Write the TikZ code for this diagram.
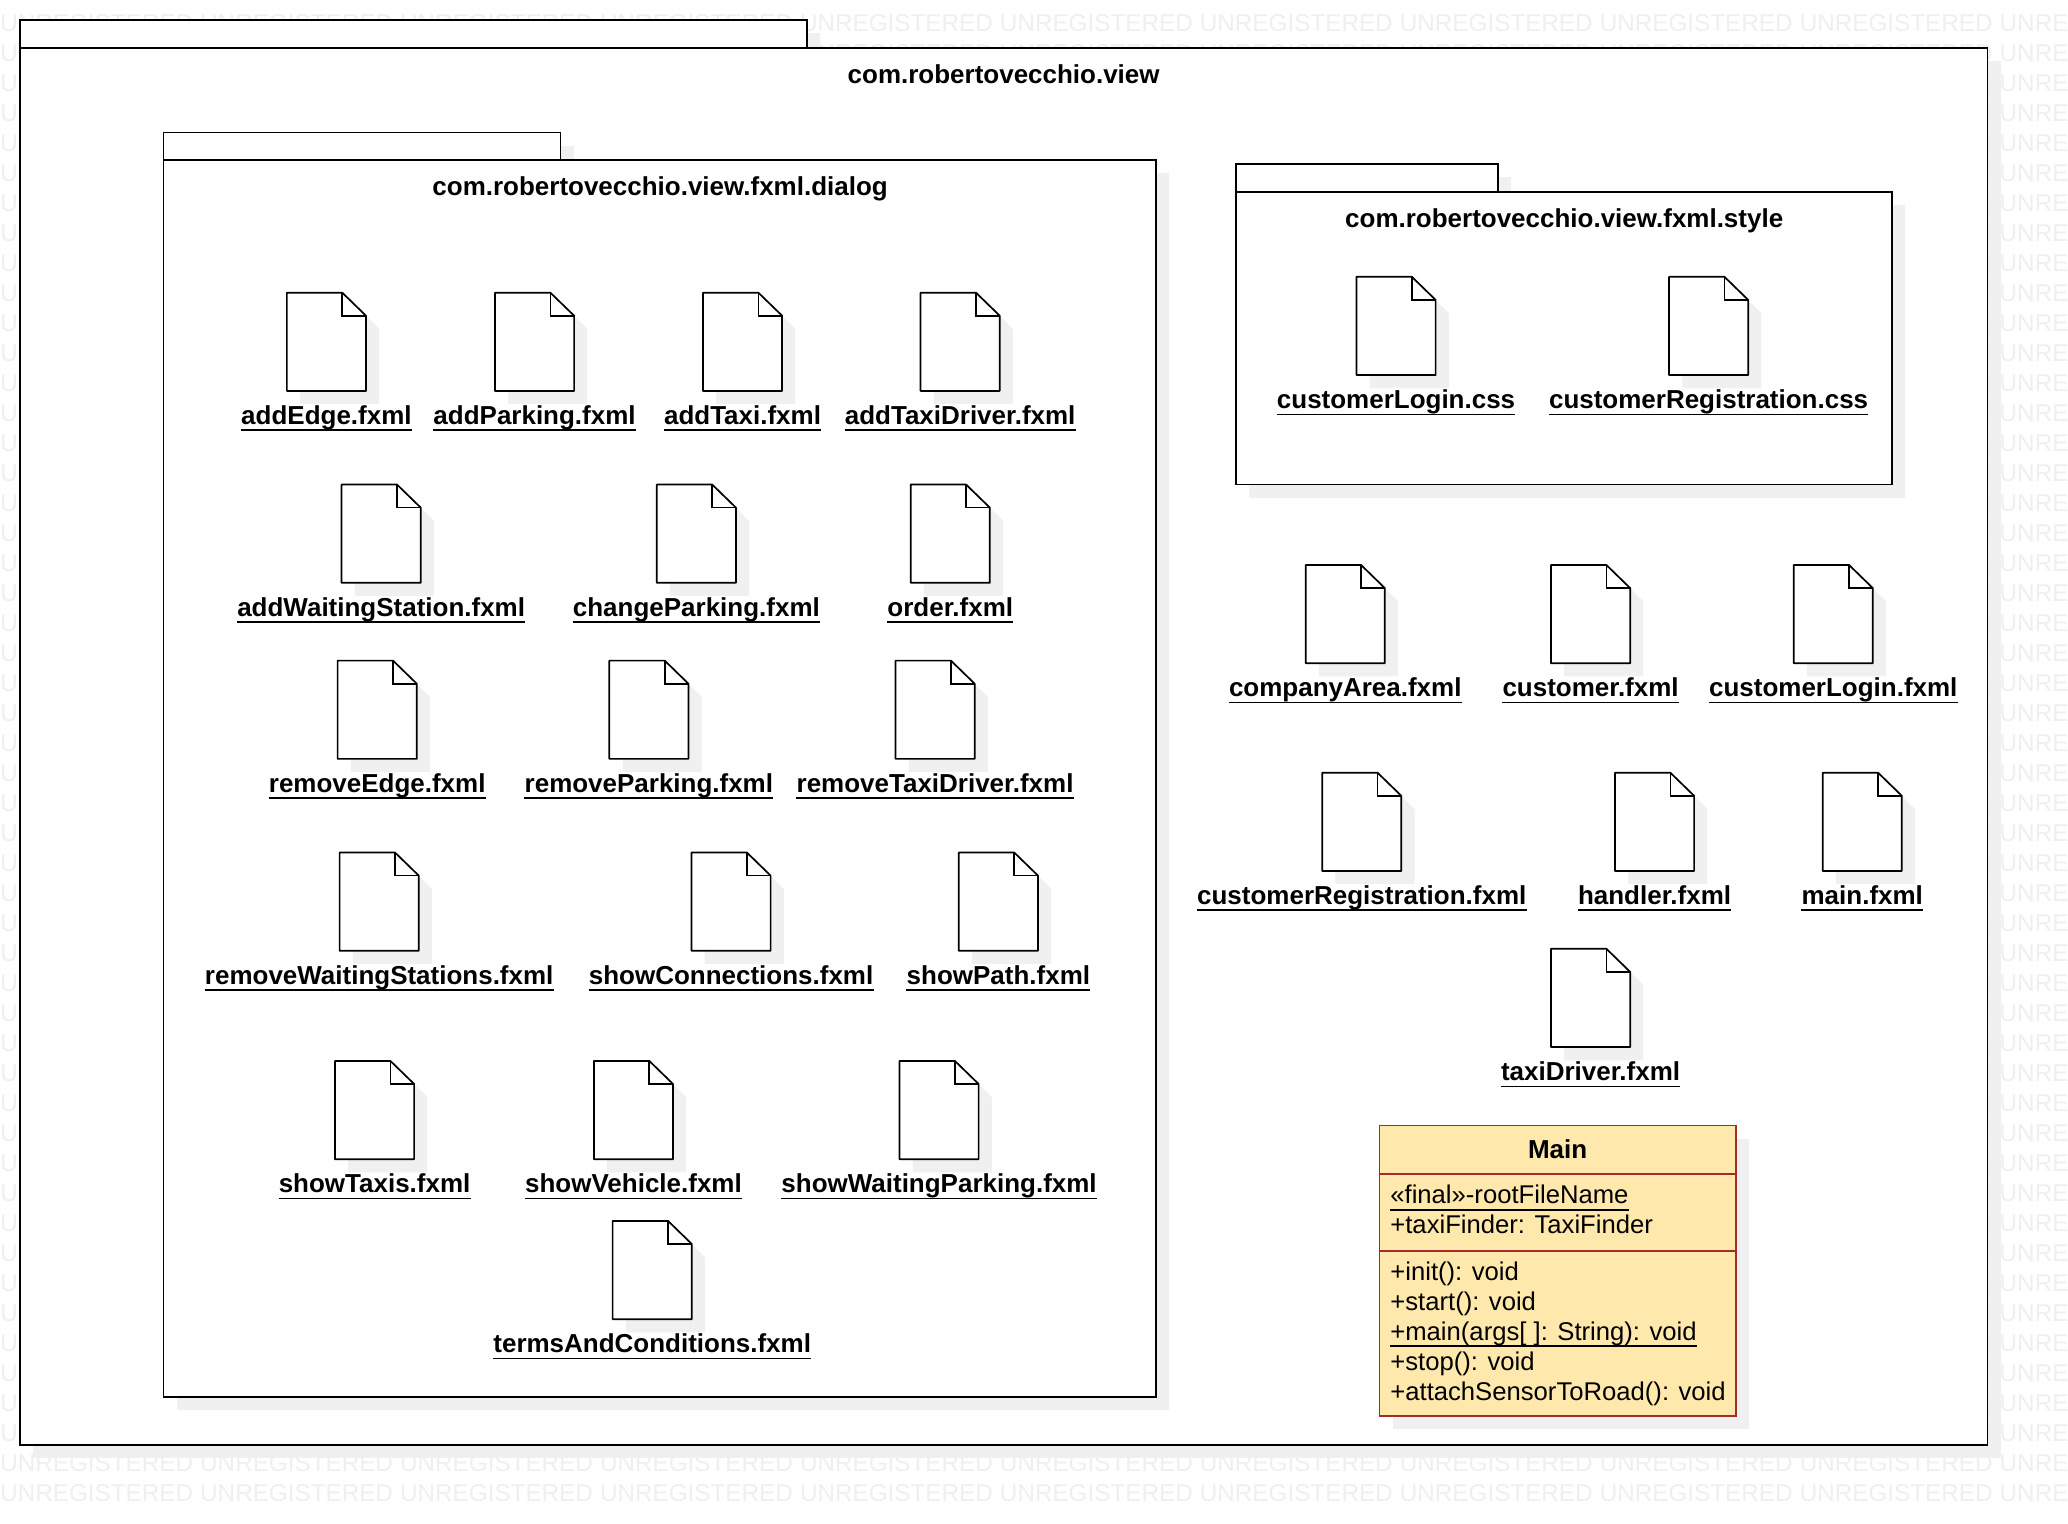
\documentclass[tikz,border=0pt]{standalone}
\usepackage{fontspec}
\setmainfont{Liberation Sans}
\definecolor{shadowgray}{HTML}{F0F0F0}
\definecolor{markgray}{HTML}{EFEFEF}
\definecolor{classfill}{HTML}{FFE8AC}
\definecolor{classline}{HTML}{A52A2A}
\tikzset{
  mark text/.style={anchor=base west, inner sep=0pt, text=markgray, font=\fontsize{18.4}{20}\selectfont},
  shadow part/.style={fill=shadowgray, draw=none},
  package part/.style={fill=white, draw=black, line width=1.3pt},
  title text/.style={anchor=base, inner sep=0pt, text=black, font=\fontsize{19.7}{22}\selectfont\bfseries},
  file label/.style={anchor=base, inner sep=0pt, text=black, font=\fontsize{19.7}{22}\selectfont\bfseries},
  under line/.style={draw=black, line width=1.3pt},
  class part/.style={fill=classfill, draw=classline, line width=1.3pt},
  class text/.style={anchor=base west, inner sep=0pt, text=black, font=\fontsize{19.45}{22}\selectfont},
}
% name, left, top, label text
\newcommand{\umlfile}[4]{
\fill [shadow part] (#2+10,#3+10) -- (#2+52,#3+10) -- (#2+70,#3+27.5) -- (#2+70,#3+84.5) -- (#2+10,#3+84.5) -- cycle;
\draw [package part, line join=round] (#2,#3) -- (#2+42,#3) -- (#2+60,#3+17.5) -- (#2+60,#3+74.5) -- (#2,#3+74.5) -- cycle;
\draw [package part, fill=none] (#2+42,#3) -- (#2+42,#3+17.5) -- (#2+60,#3+17.5);
\node [file label] (#1) at (#2+30,#3+99.8) {#4};
\draw [under line] ([yshift=-4.5pt]#1.base west) -- ([yshift=-4.5pt]#1.base east);
}
% name, left, top, tab right, body top, right, bottom
\newcommand{\umlpackage}[7]{
\fill [shadow part] (#2+10,#3+10) rectangle (#4+10,#5+10);
\fill [shadow part] (#2+10,#5+10) rectangle (#6+10,#7+10);
\draw [package part] (#2,#3) rectangle (#4,#5);
\draw [package part] (#2,#5) rectangle (#6,#7);
}
\begin{document}
\begin{tikzpicture}[x=1pt,y=-1pt]
\useasboundingbox (0,-0.4) rectangle (1568,1155.1);
% outer shadow goes under the watermark
\fill [shadow part] (25,25) rectangle (622,46);
\fill [shadow part] (25,46) rectangle (1517,1105);
\foreach \rowno in {0,...,49}
  \foreach \colno in {0,...,10}
    \node [mark text] (mark\rowno-\colno) at ({\colno*151.6},{23.3+\rowno*22.75}) {UNREGISTERED};
\draw [package part] (15,15) rectangle (612,36);
\draw [package part] (15,36) rectangle (1507,1095);
\node [title text] (viewTitle) at (761,63.1) {com.robertovecchio.view};

% dialog package
\umlpackage{dialog}{124}{100}{425}{121}{876.5}{1059}
\node [title text] (dialogTitle) at (500.5,148.1) {com.robertovecchio.view.fxml.dialog};
\umlfile{addEdge}{217.5}{221.5}{addEdge.fxml}
\umlfile{addParking}{375.3}{221.5}{addParking.fxml}
\umlfile{addTaxi}{533}{221.5}{addTaxi.fxml}
\umlfile{addTaxiDriver}{698}{221.5}{addTaxiDriver.fxml}
\umlfile{addWaitingStation}{259}{367}{addWaitingStation.fxml}
\umlfile{changeParking}{498}{367}{changeParking.fxml}
\umlfile{order}{690.5}{367}{order.fxml}
\umlfile{removeEdge}{256}{500.5}{removeEdge.fxml}
\umlfile{removeParking}{462}{500.5}{removeParking.fxml}
\umlfile{removeTaxiDriver}{679}{500.5}{removeTaxiDriver.fxml}
\umlfile{removeWaitingStations}{257.5}{646}{removeWaitingStations.fxml}
\umlfile{showConnections}{524.3}{646}{showConnections.fxml}
\umlfile{showPath}{727}{646}{showPath.fxml}
\umlfile{showTaxis}{254}{804}{showTaxis.fxml}
\umlfile{showVehicle}{450.3}{804}{showVehicle.fxml}
\umlfile{showWaitingParking}{682}{804}{showWaitingParking.fxml}
\umlfile{termsAndConditions}{464.5}{925.3}{termsAndConditions.fxml}

% style package
\umlpackage{style}{937}{124}{1136}{145}{1434.5}{367}
\node [title text] (styleTitle) at (1186,172.3) {com.robertovecchio.view.fxml.style};
\umlfile{customerLoginCss}{1028.5}{209.5}{customerLogin.css}
\umlfile{customerRegistrationCss}{1265.5}{209.5}{customerRegistration.css}

% files of the view package
\umlfile{companyArea}{990}{428}{companyArea.fxml}
\umlfile{customer}{1176}{428}{customer.fxml}
\umlfile{customerLogin}{1360}{428}{customerLogin.fxml}
\umlfile{customerRegistration}{1002.5}{585.5}{customerRegistration.fxml}
\umlfile{handler}{1224.5}{585.5}{handler.fxml}
\umlfile{main}{1382}{585.5}{main.fxml}
\umlfile{taxiDriver}{1176}{719}{taxiDriver.fxml}

% class Main
\fill [shadow part] (1056,863) rectangle (1326,1083);
\draw [class part] (1046,853) rectangle (1316,890);
\draw [class part] (1046,890) rectangle (1316,948);
\draw [class part] (1046,948) rectangle (1316,1073);
\node [title text] (mainName) at (1181,878.1) {Main};
\node [class text] (rootFileName) at (1054,912.3) {«final»-rootFileName};
\draw [under line] ([yshift=-4.5pt]rootFileName.base west) -- ([yshift=-4.5pt]rootFileName.base east);
\node [class text] (taxiFinder) at (1054,935.1) {+taxiFinder: TaxiFinder};
\node [class text] (initOp) at (1054,970.3) {+init(): void};
\node [class text] (startOp) at (1054,993) {+start(): void};
\node [class text] (mainOp) at (1054,1015.8) {+main(args[ ]: String): void};
\draw [under line] ([yshift=-4.5pt]mainOp.base west) -- ([yshift=-4.5pt]mainOp.base east);
\node [class text] (stopOp) at (1054,1038.5) {+stop(): void};
\node [class text] (attachOp) at (1054,1061.3) {+attachSensorToRoad(): void};
\end{tikzpicture}
\end{document}
